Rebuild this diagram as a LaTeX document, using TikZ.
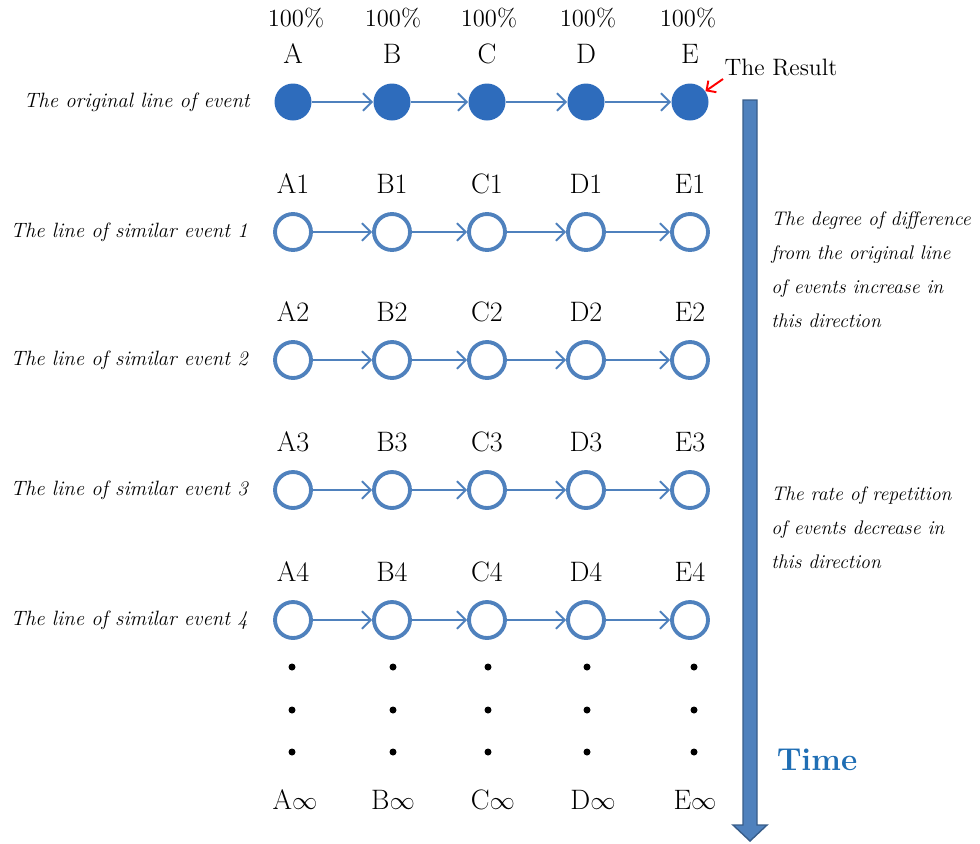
\documentclass[tikz,border=0pt]{standalone}
\usepackage{amsmath, amssymb}
\usepackage{tikz}
\usetikzlibrary{arrows.meta}
\usepackage{xcolor}
\definecolor{evblue}{RGB}{46,108,188}
\definecolor{evline}{RGB}{79,129,189}
\definecolor{evdark}{RGB}{56,93,138}
\definecolor{timeblue}{RGB}{31,110,180}
\tikzstyle{evfull}=[circle, fill=evblue, minimum size=.74cm, inner sep=0pt]
\tikzstyle{evopen}=[circle, draw=evline, line width=2.2pt, fill=white, minimum size=.72cm, inner sep=0pt]
\tikzstyle{evarrow}=[evline, line width=1.1pt, -{Straight Barb[length=5pt,width=10pt]}]
\tikzstyle{evletter}=[font=\fontsize{16}{18}\selectfont, inner sep=0pt]
\tikzstyle{rowtext}=[font=\fontsize{11.8}{14}\selectfont\itshape, anchor=east, inner sep=0pt]
\tikzstyle{sidetext}=[font=\fontsize{11.2}{19.5}\selectfont\itshape, align=left, anchor=north west, inner sep=0pt]
% one line of events: name, y, circle style, index
\newcommand{\eventRow}[4]{
	\foreach \n/\x in {A/293,B/392,C/487,D/586,E/690}{
		\node[#3] (#1\n) at (\x,#2) {};
		\node[evletter] (#1\n-l) at (\x,#2-48) {\n#4};
	}
	\foreach \p/\q in {A/B,B/C,C/D,D/E}{
		\draw[evarrow] (#1\p) -- (#1\q);
	}
}

\begin{document}
\begin{tikzpicture}[x=0.02cm, y=-0.02cm]
	\useasboundingbox (0,0) rectangle (980,843);
	% time arrow
	\draw[evdark, fill=evline, line width=.8pt] (743,100) -- (757,100) -- (757,825) -- (767,825) -- (750,841) -- (733,825) -- (743,825) -- cycle;
	\node[font=\fontsize{18}{20}\selectfont\bfseries, text=timeblue] (time) at (817,760) {Time};
	% rows
	\eventRow{r0}{102}{evfull}{}
	\eventRow{r1}{232}{evopen}{1}
	\eventRow{r2}{360}{evopen}{2}
	\eventRow{r3}{490}{evopen}{3}
	\eventRow{r4}{620}{evopen}{4}
	\foreach \n/\x in {A/296,B/393,C/489,D/588,E/688}{
		\node[font=\fontsize{14}{16}\selectfont, inner sep=0pt] (pc\n) at (\x,18) {100\%};
	}
	\node[rowtext] (lbl0) at (250,102) {The original line of event};
	\node[rowtext] (lbl1) at (248,232) {The line of similar event 1};
	\node[rowtext] (lbl2) at (248,360) {The line of similar event 2};
	\node[rowtext] (lbl3) at (248,490) {The line of similar event 3};
	\node[rowtext] (lbl4) at (248,620) {The line of similar event 4};
	% the result
	\node[font=\fontsize{13.5}{15}\selectfont, inner sep=0pt] (result) at (781,68) {The Result};
	\coordinate (rtail) at (723,79);
	\draw[red, line width=1.1pt, -{Straight Barb[length=4pt,width=8pt]}] (rtail) -- (r0E.35);
	% dots and infinity
	\foreach \x in {292,393,488,587,694}{
		\foreach \y in {667,710,752}{
			\fill (\x,\y) circle (.07cm);
		}
	}
	\foreach \n/\x in {A/295,B/393,C/493,D/593,E/695}{
		\node[evletter] (inf\n) at (\x,800) {\n{\fontsize{15}{17}\selectfont$\infty$}};
	}
	\node[sidetext] (side1) at (771,211) {The degree of difference\\from the original line\\of events increase in\\this direction};
	\node[sidetext] (side2) at (771,486) {The rate of repetition\\of events decrease in\\this direction};
\end{tikzpicture}
\end{document}
